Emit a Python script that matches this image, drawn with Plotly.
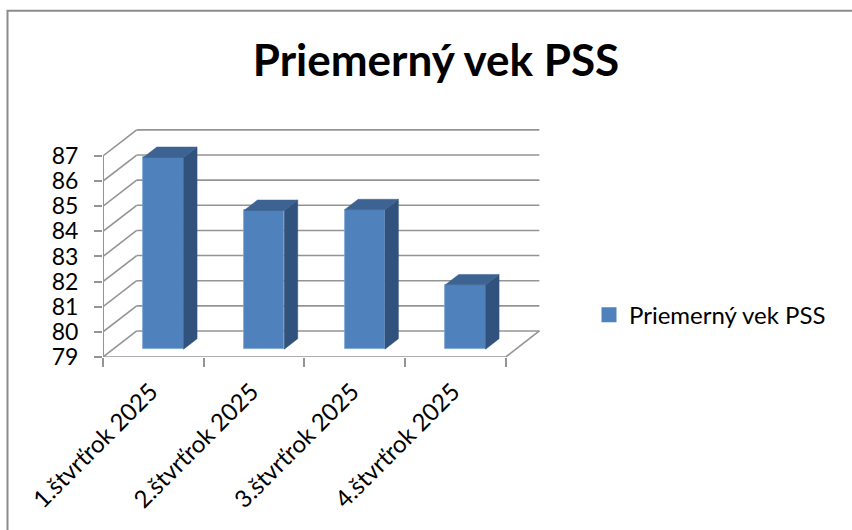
import plotly.graph_objects as go

categories = ["1.štvrťrok 2025", "2.štvrťrok 2025", "3.štvrťrok 2025", "4.štvrťrok 2025"]
values = [86.63, 84.52, 84.55, 81.56]
series_name = "Priemerný vek PSS"
y_ticks = [79, 80, 81, 82, 83, 84, 85, 86, 87]

# oblique depth vector, in axis units
DX, DY = 0.3348, 1.036
BASE = y_ticks[0]
TOP = y_ticks[-1]
N = len(categories)
GRID = "#949494"
FRONT = "#4f81bd"
SIDE = "#30527c"
CAP = "#3c6391"


def proj(x, v, d):
    return x + d * DX, v + d * DY


fig = go.Figure()
shapes = []


def seg(a, b, color=GRID, w=1.6):
    shapes.append(dict(type="line", xref="x", yref="y", layer="below",
                       x0=a[0], y0=a[1], x1=b[0], y1=b[1],
                       line=dict(color=color, width=w)))


for v in y_ticks:
    seg(proj(0, v, 1), proj(N, v, 1))
    seg(proj(0, v, 0), proj(0, v, 1))
seg(proj(0, BASE, 0), proj(0, TOP, 0), w=2)
seg(proj(0, BASE, 0), proj(N, BASE, 0))
seg(proj(N, BASE, 0), proj(N, BASE, 1))

d0, d1 = 0.3, 0.7
lo, hi = 0.3, 0.7
centers = [i + 0.5 for i in range(N)]

fig.add_trace(go.Bar(
    x=[c + d0 * DX for c in centers],
    y=[v - BASE for v in values],
    base=BASE + d0 * DY,
    width=hi - lo,
    marker=dict(color=FRONT, line=dict(color="#7ba3d3", width=0.8)),
    showlegend=False, hoverinfo="skip"))

for i, v in enumerate(values):
    l, r = i + lo, i + hi
    side = [proj(r, BASE, d0), proj(r, BASE, d1), proj(r, v, d1), proj(r, v, d0), proj(r, BASE, d0)]
    cap = [proj(l, v, d0), proj(l, v, d1), proj(r, v, d1), proj(r, v, d0), proj(l, v, d0)]
    for pts, col in ((side, SIDE), (cap, CAP)):
        fig.add_trace(go.Scatter(
            x=[p[0] for p in pts], y=[p[1] for p in pts],
            mode="lines", fill="toself", fillcolor=col,
            line=dict(color=col, width=0.5),
            showlegend=False, hoverinfo="skip"))

fig.add_trace(go.Scatter(
    x=[None], y=[None], mode="markers", name=series_name,
    marker=dict(symbol="square", size=15, color=FRONT)))

W, H = 852, 530
L, R, T, B = 103, 545, 125, 356.7
fig.update_layout(
    width=W, height=H,
    paper_bgcolor="white", plot_bgcolor="rgba(0,0,0,0)",
    margin=dict(l=L, r=W - R, t=T, b=H - B, autoexpand=False),
    font=dict(family="Lato", color="#000000"),
    title=dict(text="<b>" + series_name + "</b>", font=dict(size=44, family="Lato", color="#000000"),
               x=436 / W, xanchor="center", xref="container", y=1 - 61 / H, yanchor="middle", yref="container"),
    showlegend=True,
    legend=dict(x=(589 - L) / (R - L), y=(B - 315) / (B - T), xref="paper", yref="paper",
                xanchor="left", yanchor="middle",
                font=dict(size=24, family="Lato"), bgcolor="rgba(0,0,0,0)", itemwidth=30),
    xaxis=dict(range=[0, (R - L) / 100.67], tickmode="array", tickvals=[c - 0.025 for c in centers],
               ticktext=categories,
               tickangle=-45, ticks="", showgrid=False, zeroline=False, showline=False,
               tickfont=dict(size=24), ticklabelstandoff=15,
               minor=dict(tickmode="array", tickvals=list(range(N + 1)), ticks="outside", ticklen=9,
                          tickcolor=GRID, tickwidth=1.6, showgrid=False)),
    yaxis=dict(range=[BASE, BASE + (B - T) / 25.1], tickmode="array", tickvals=y_ticks,
               ticks="outside", ticklen=8, tickcolor=GRID, tickwidth=1.6, showgrid=False,
               zeroline=False, showline=False, tickfont=dict(size=23), ticklabelstandoff=11),
    shapes=shapes + [dict(type="rect", xref="paper", yref="paper", layer="below",
                          x0=(7.5 - L) / (R - L), x1=(900 - L) / (R - L),
                          y0=(B - 600) / (B - T), y1=(B - 11) / (B - T),
                          line=dict(color="#8c8c8c", width=2), fillcolor="rgba(0,0,0,0)")],
    bargap=0,
)
fig.write_html("out.html", post_script="document.body.style.margin='0';",
               config={"displayModeBar": False})
